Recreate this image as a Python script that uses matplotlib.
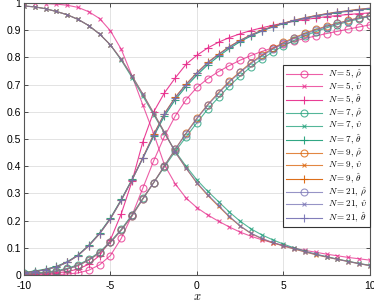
import matplotlib
matplotlib.use('Agg')
import matplotlib.pyplot as plt

plt.rcParams['mathtext.fontset'] = 'cm'
plt.rcParams['font.family'] = ['Liberation Sans', 'DejaVu Sans']

# Données
x = [-10, -9.375, -8.75, -8.125, -7.5, -6.875, -6.25, -5.625, -5, -4.375, -3.75,
     -3.125, -2.5, -1.875, -1.25, -0.625, 0, 0.625, 1.25, 1.875, 2.5, 3.125,
     3.75, 4.375, 5, 5.625, 6.25, 6.875, 7.5, 8.125, 8.75, 9.375, 10]

rho5 = [0.000, 0.001, 0.001, 0.002, 0.004, 0.008, 0.018, 0.038, 0.072, 0.135, 0.220,
        0.320, 0.420, 0.510, 0.585, 0.645, 0.690, 0.722, 0.748, 0.770, 0.790, 0.807,
        0.822, 0.835, 0.848, 0.860, 0.870, 0.879, 0.888, 0.896, 0.904, 0.912, 0.920]
ups5 = [1.000, 0.999, 0.998, 0.996, 0.992, 0.984, 0.968, 0.943, 0.898, 0.830, 0.732,
        0.625, 0.520, 0.405, 0.335, 0.283, 0.248, 0.221, 0.198, 0.177, 0.158, 0.143,
        0.130, 0.119, 0.109, 0.099, 0.091, 0.084, 0.077, 0.071, 0.065, 0.060, 0.055]
the5 = [0.002, 0.003, 0.005, 0.008, 0.013, 0.022, 0.040, 0.072, 0.130, 0.225, 0.345,
        0.490, 0.600, 0.670, 0.725, 0.775, 0.808, 0.835, 0.856, 0.873, 0.887, 0.899,
        0.909, 0.918, 0.926, 0.933, 0.939, 0.945, 0.950, 0.954, 0.958, 0.961, 0.964]

rho7 = [0.006, 0.008, 0.011, 0.016, 0.025, 0.038, 0.058, 0.085, 0.123, 0.168, 0.222,
        0.282, 0.340, 0.398, 0.455, 0.508, 0.560, 0.610, 0.653, 0.695, 0.732, 0.766,
        0.794, 0.820, 0.843, 0.863, 0.880, 0.895, 0.909, 0.921, 0.932, 0.942, 0.951]
ups7 = [0.989, 0.986, 0.979, 0.969, 0.957, 0.940, 0.917, 0.886, 0.846, 0.790, 0.726,
        0.658, 0.590, 0.522, 0.455, 0.400, 0.350, 0.308, 0.270, 0.232, 0.198, 0.170,
        0.148, 0.130, 0.114, 0.100, 0.088, 0.077, 0.068, 0.059, 0.051, 0.043, 0.036]
the7 = [0.010, 0.015, 0.022, 0.032, 0.049, 0.074, 0.110, 0.155, 0.210, 0.278, 0.352,
        0.430, 0.510, 0.585, 0.645, 0.693, 0.735, 0.773, 0.804, 0.833, 0.858, 0.879,
        0.897, 0.912, 0.924, 0.935, 0.944, 0.952, 0.959, 0.965, 0.970, 0.975, 0.979]

rho9 = [0.003, 0.005, 0.008, 0.013, 0.022, 0.035, 0.055, 0.082, 0.120, 0.165, 0.218,
        0.280, 0.340, 0.402, 0.463, 0.522, 0.577, 0.627, 0.671, 0.713, 0.748, 0.781,
        0.808, 0.833, 0.855, 0.873, 0.889, 0.903, 0.915, 0.926, 0.936, 0.946, 0.954]
ups9 = [0.989, 0.986, 0.979, 0.969, 0.957, 0.940, 0.917, 0.886, 0.846, 0.793, 0.732,
        0.665, 0.595, 0.525, 0.452, 0.393, 0.338, 0.293, 0.253, 0.214, 0.180, 0.153,
        0.134, 0.119, 0.107, 0.096, 0.085, 0.075, 0.066, 0.058, 0.050, 0.042, 0.035]
the9 = [0.008, 0.013, 0.020, 0.030, 0.047, 0.072, 0.108, 0.152, 0.207, 0.275, 0.350,
        0.432, 0.517, 0.594, 0.654, 0.702, 0.744, 0.782, 0.812, 0.840, 0.863, 0.883,
        0.900, 0.914, 0.926, 0.937, 0.946, 0.954, 0.961, 0.967, 0.972, 0.977, 0.981]

rho21 = [0.003, 0.005, 0.008, 0.013, 0.022, 0.035, 0.055, 0.082, 0.120, 0.165, 0.218,
         0.280, 0.340, 0.402, 0.463, 0.520, 0.575, 0.625, 0.668, 0.710, 0.745, 0.778,
         0.805, 0.830, 0.852, 0.870, 0.886, 0.900, 0.913, 0.925, 0.935, 0.945, 0.953]
ups21 = [0.989, 0.986, 0.979, 0.969, 0.957, 0.940, 0.917, 0.886, 0.846, 0.793, 0.732,
         0.665, 0.595, 0.525, 0.452, 0.393, 0.340, 0.296, 0.256, 0.216, 0.181, 0.154,
         0.135, 0.120, 0.108, 0.097, 0.086, 0.076, 0.067, 0.058, 0.050, 0.042, 0.035]
the21 = [0.008, 0.013, 0.020, 0.030, 0.047, 0.072, 0.108, 0.152, 0.207, 0.275, 0.350,
         0.430, 0.515, 0.592, 0.652, 0.700, 0.742, 0.780, 0.810, 0.838, 0.862, 0.882,
         0.899, 0.913, 0.925, 0.936, 0.945, 0.953, 0.960, 0.966, 0.971, 0.976, 0.980]

series = [
    ('5', '#e7298a', rho5, ups5, the5),
    ('7', '#1b9e77', rho7, ups7, the7),
    ('9', '#d95f02', rho9, ups9, the9),
    ('21', '#7570b3', rho21, ups21, the21),
]

fig = plt.figure(figsize=(3.74, 3.04), dpi=100)
ax = fig.add_axes([0.064, 0.095, 0.925, 0.895])

for n, c, rho, ups, the in series:
    ax.plot(x, rho, color=c, lw=0.8, alpha=0.75, marker='o', ms=5, mfc='none', mew=0.8,
            label=r'$N = %s,\, \hat{\rho}$' % n)
    ax.plot(x, ups, color=c, lw=0.8, alpha=0.75, marker='x', ms=3.5, mew=0.8,
            label=r'$N = %s,\, \hat{\upsilon}$' % n)
    ax.plot(x, the, color=c, lw=0.8, alpha=0.9, marker='+', ms=5.5, mew=0.8,
            label=r'$N = %s,\, \hat{\theta}$' % n)

ax.set_xlim(-10, 10)
ax.set_ylim(0, 1)
ax.set_xticks([-10, -5, 0, 5, 10])
ax.set_xticklabels(['-10', '-5', '0', '5', '10'])
ax.set_yticks([i / 10 for i in range(11)])
ax.set_yticklabels(['0', '0.1', '0.2', '0.3', '0.4', '0.5', '0.6', '0.7', '0.8', '0.9', '1'])
ax.tick_params(direction='in', length=3, width=0.6, labelsize=7.5, pad=2,
               top=True, right=True, colors='#333333', labelcolor='black')
ax.tick_params(axis='x', pad=4)
ax.grid(True, color='#e3e3e3', lw=0.7)
ax.set_axisbelow(True)
for s in ax.spines.values():
    s.set_color('#555555')
    s.set_linewidth(0.8)
ax.set_xlabel(r'$x$', fontsize=9, labelpad=0)

leg = ax.legend(loc='upper right', bbox_to_anchor=(1.0, 0.772), fontsize=6.6,
                fancybox=False, framealpha=1, edgecolor='#333333', borderaxespad=0,
                handlelength=4.0, labelspacing=0.0, handletextpad=0.6,
                borderpad=0.3)
leg.get_frame().set_linewidth(0.8)

fig.savefig('out.png', dpi=100)
